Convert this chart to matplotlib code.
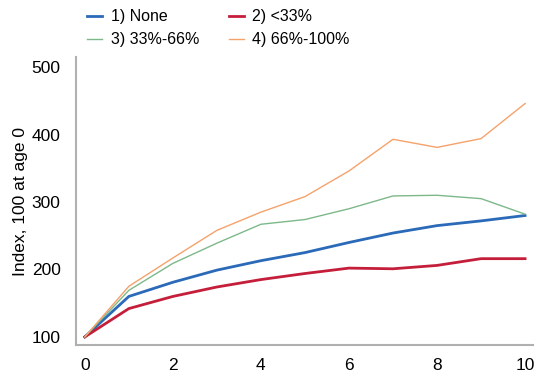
import matplotlib
matplotlib.use('Agg')
import matplotlib.pyplot as plt

plt.rcParams['font.family'] = ['Liberation Sans', 'DejaVu Sans']

ages = [0, 1, 2, 3, 4, 5, 6, 7, 8, 9, 10]
none = [100, 160, 181, 199, 213, 225, 240, 254, 265, 272, 280]
lt33 = [100, 142, 160, 174, 185, 194, 202, 201, 206, 216, 216]
mid = [100, 169, 209, 239, 267, 274, 290, 309, 310, 305, 282]
high = [100, 175, 217, 258, 285, 308, 346, 393, 381, 394, 446]

labels = ['1) None', '2) <33%', '3) 33%-66%', '4) 66%-100%']
colors = ['#2a6ab8', '#c41e3a', '#7db88a', '#f5a26b']

fig = plt.figure(figsize=(5.36, 3.77), dpi=100)
ax = fig.add_axes([76/536, 32/377, 457/536, 288/377])

l1, = ax.plot(ages, none, color=colors[0], lw=2, label=labels[0])
l2, = ax.plot(ages, lt33, color=colors[1], lw=2, label=labels[1])
l3, = ax.plot(ages, mid, color=colors[2], lw=1, label=labels[2])
l4, = ax.plot(ages, high, color=colors[3], lw=1, label=labels[3])

ax.set_xlim(-0.2, 10.18)
ax.set_ylim(88, 515)
ax.set_xticks([0, 2, 4, 6, 8, 10])
ax.set_yticks([100, 200, 300, 400, 500])
ax.tick_params(axis='y', length=0, labelsize=12.5, pad=11)
ax.tick_params(axis='x', length=0, labelsize=12.5, pad=9)
ax.set_ylabel('Index, 100 at age 0', fontsize=12.5, labelpad=3)

for s in ['top', 'right']:
    ax.spines[s].set_visible(False)
for s in ['left', 'bottom']:
    ax.spines[s].set_color('#b0b0b0')
    ax.spines[s].set_linewidth(1.5)

# row-major order like the original: None, <33% / 33-66, 66-100
fig.legend([l1, l3, l2, l4], [labels[0], labels[2], labels[1], labels[3]],
           loc='upper left', bbox_to_anchor=(81/536, 1 - 3/377), borderaxespad=0,
           ncol=2, frameon=False, fontsize=11.5, handlelength=0.9,
           columnspacing=1.9, labelspacing=0.5, handletextpad=0.55)

fig.savefig('out.png', dpi=100)
